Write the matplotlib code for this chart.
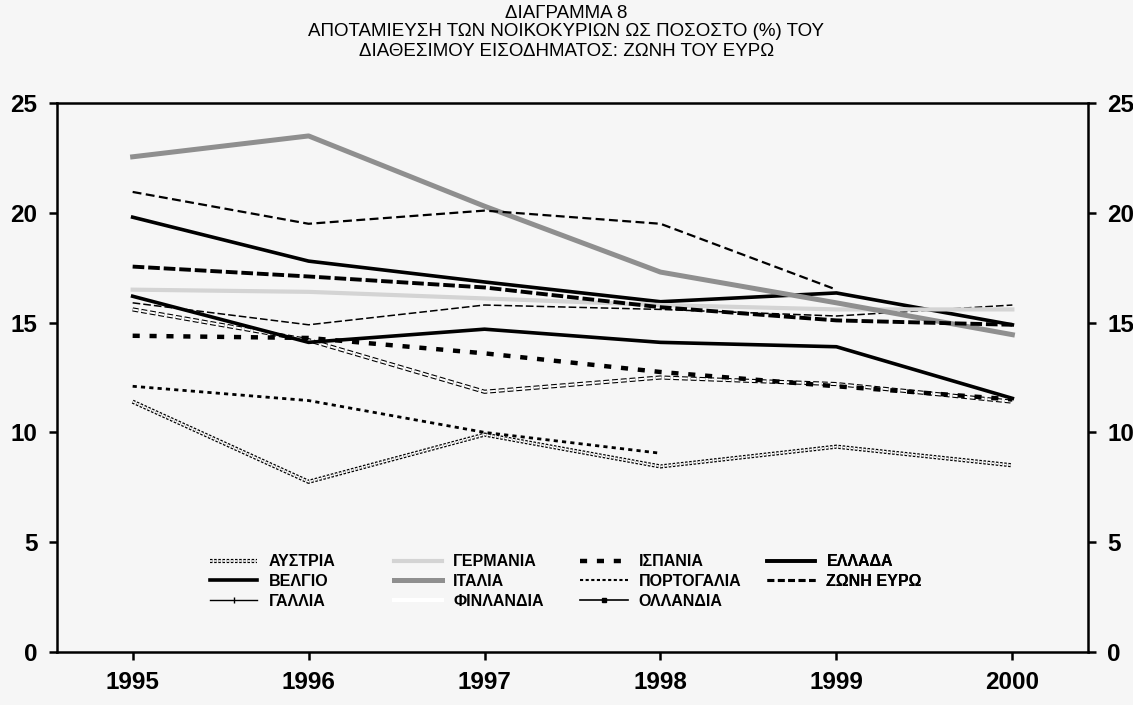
import numpy as np
import matplotlib
matplotlib.use("Agg")
import matplotlib.pyplot as plt
import matplotlib.patheffects as pe
from matplotlib.lines import Line2D

plt.rcParams['font.family'] = ['Liberation Sans', 'DejaVu Sans']

# data (% of disposable income)
years = [1995, 1996, 1997, 1998, 1999, 2000]
austria = [11.4, 7.75, 9.9, 8.45, 9.35, 8.5]
belgium = [19.8, 17.8, 16.85, 15.95, 16.35, 14.9]
france = [15.9, 14.9, 15.8, 15.6, 15.3, 15.8]
germany = [16.5, 16.4, 16.1, 15.8, 15.6, 15.6]
italy = [22.55, 23.5, 20.3, 17.3, 15.9, 14.45]
finland = [15.6, 14.2, 11.85, 12.5, 12.2, 11.4]
spain = [14.4, 14.3, 13.6, 12.75, 12.1, 11.5]
portugal = [12.1, 11.45, 10.0, 9.05, np.nan, np.nan]
netherlands = [20.95, 19.5, 20.1, 19.5, 16.5, np.nan]
greece = [16.2, 14.1, 14.7, 14.1, 13.9, 11.55]
euro = [17.55, 17.1, 16.6, 15.7, 15.1, 14.9]

labels = ['ΑΥΣΤΡΙΑ', 'ΒΕΛΓΙΟ', 'ΓΑΛΛΙΑ', 'ΓΕΡΜΑΝΙΑ', 'ΙΤΑΛΙΑ', 'ΦΙΝΛΑΝΔΙΑ',
          'ΙΣΠΑΝΙΑ', 'ΠΟΡΤΟΓΑΛΙΑ', 'ΟΛΛΑΝΔΙΑ', 'ΕΛΛΑΔΑ', 'ΖΩΝΗ ΕΥΡΩ']
series = [austria, belgium, france, germany, italy, finland,
          spain, portugal, netherlands, greece, euro]

outline = [pe.Stroke(linewidth=3.0, foreground='black'), pe.Normal()]
styles = [
    dict(color='white', lw=1.2, ls=(0, (1.5, 1)), path_effects=outline),   # Austria
    dict(color='black', lw=2.6, ls='-'),                                     # Belgium
    dict(color='black', lw=1.1, ls=(0, (5, 2))),                             # France
    dict(color='#d4d4d4', lw=3.0, ls='-'),                                   # Germany
    dict(color='#8f8f8f', lw=3.6, ls='-'),                                   # Italy
    dict(color='white', lw=1.4, ls=(0, (3, 1.5)), path_effects=outline),    # Finland
    dict(color='black', lw=3.2, ls=(0, (1.6, 2.2))),                         # Spain
    dict(color='black', lw=2.0, ls=(0, (1.5, 1.5))),                         # Portugal
    dict(color='black', lw=1.6, ls=(0, (4, 2))),                             # Netherlands
    dict(color='black', lw=2.6, ls='-'),                                     # Greece
    dict(color='black', lw=2.8, ls=(0, (3, 1))),                             # Euro zone
]
legend_styles = [
    dict(color='white', lw=1.2, ls=(0, (1.5, 1)), path_effects=outline),
    dict(color='black', lw=2.6, ls='-'),
    dict(color='black', lw=1.0, ls='-', marker='|', markevery=[1], markersize=5),
    dict(color='#d4d4d4', lw=3.0, ls='-'),
    dict(color='#8f8f8f', lw=3.6, ls='-'),
    dict(color='white', lw=3.0, ls='-'),
    dict(color='black', lw=3.2, ls=(0, (1.6, 2.2))),
    dict(color='black', lw=1.5, ls=(0, (1.5, 1.2))),
    dict(color='black', lw=1.2, ls='-', marker='s', markevery=[1], markersize=3),
    dict(color='black', lw=2.6, ls='-'),
    dict(color='black', lw=2.2, ls=(0, (2.2, 1.2))),
]

fig = plt.figure(figsize=(11.33, 7.05), dpi=100, facecolor='#f6f6f6')
ax = fig.add_axes([0.0503, 0.0752, 0.910, 0.7787], facecolor='#f6f6f6')

for vals, st in zip(series, styles):
    ax.plot(years, vals, **st)

ax.set_xlim(1994.57, 2000.43)
ax.set_ylim(0, 25)
ax.set_xticks(years)
ax.set_yticks(range(0, 26, 5))
for s in ax.spines.values():
    s.set_linewidth(1.8)
ax.tick_params(axis='both', direction='out', length=6, width=1.8,
               labelsize=17.5)
ax.tick_params(axis='y', right=True, labelright=True, pad=8)
ax.tick_params(axis='x', pad=8)
for lab in ax.get_xticklabels() + ax.get_yticklabels():
    lab.set_fontweight('bold')
for t in ax.yaxis.get_major_ticks():
    t.label2.set_fontweight('bold')

# legend drawn as four single-column blocks
handles = [Line2D([0, 1], [0, 0], **st) for st in legend_styles]
col_x = [0.148, 0.327, 0.507, 0.689]
groups = [[0, 1, 2], [3, 4, 5], [6, 7, 8], [9, 10]]
for cx, idx in zip(col_x, groups):
    leg = ax.legend([handles[i] for i in idx], [labels[i] for i in idx],
                    loc='upper left', bbox_to_anchor=(cx, 0.178),
                    frameon=False, borderpad=0, borderaxespad=0,
                    handlelength=3.0, handletextpad=0.7, labelspacing=0.3,
                    prop={'weight': 'bold', 'size': 11.5})
    ax.add_artist(leg)

title = ['ΔΙΑΓΡΑΜΜΑ 8',
         'ΑΠΟΤΑΜΙΕΥΣΗ ΤΩΝ ΝΟΙΚΟΚΥΡΙΩΝ ΩΣ ΠΟΣΟΣΤΟ (%) ΤΟΥ',
         'ΔΙΑΘΕΣΙΜΟΥ ΕΙΣΟΔΗΜΑΤΟΣ: ΖΩΝΗ ΤΟΥ ΕΥΡΩ']
for i, line in enumerate(title):
    fig.text(0.5, 1 - (13 + 19 * i) / 705, line, ha='center', va='center',
             fontsize=13.5)

fig.savefig('out.png', dpi=100, facecolor=fig.get_facecolor())
